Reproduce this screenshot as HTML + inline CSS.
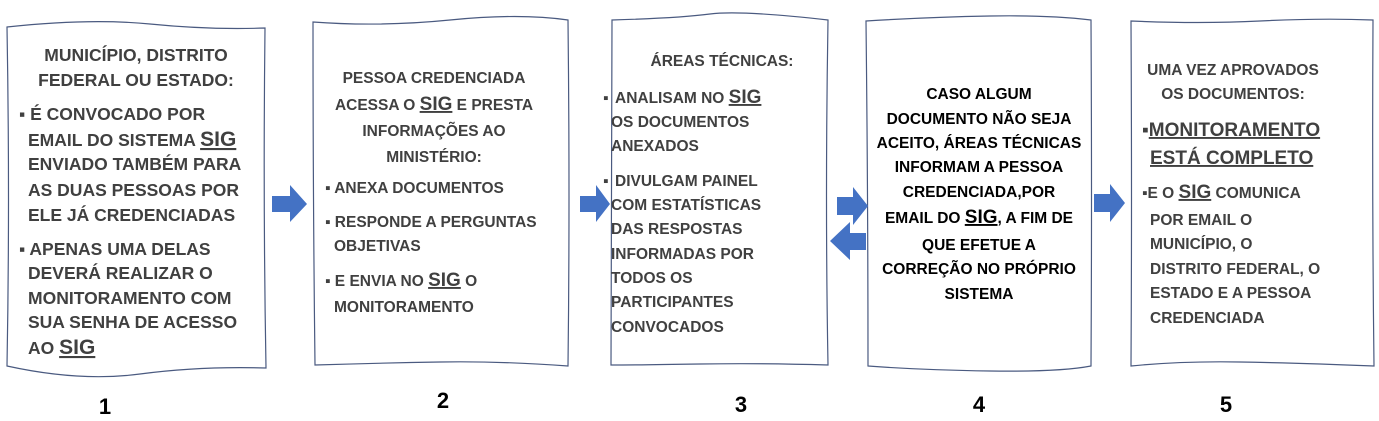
<!DOCTYPE html>
<html><head><meta charset="utf-8"><style>
html,body{margin:0;padding:0;background:#fff;}
svg{display:block;}
text{font-family:"Liberation Sans",sans-serif;font-weight:bold;font-size:15.5px;fill:#404040;}
.b1 text{font-size:17.5px;}
.c{text-anchor:middle;}
.s{font-size:19px;text-decoration:underline;}
.b1 .s{font-size:21px;}
.k{fill:#000;}
.n{font-size:22px;fill:#000;}
</style></head><body>
<svg width="1379" height="421" viewBox="0 0 1379 421">
<g fill="#fff" stroke="#4a5a80" stroke-width="1.2">
<path d="M7,27 Q90,18 150,24 T265,28 Q263,200 266,368 Q200,366 140,374 T7,366 Q10,200 7,27Z"/>
<path d="M313,22 Q380,27 450,20 T568,20 Q570,200 568,366 Q500,361 440,362 T315,365 Q313,200 313,22Z"/>
<path d="M612,20 Q680,18 710,14 T828,20 Q825,200 828,365 Q760,363 700,364 T611,365 Q612,200 612,20Z"/>
<path d="M866,21 Q930,17 990,16 T1091,20 Q1092,200 1091,366 Q1060,372 990,371 T868,366 Q868,200 866,21Z"/>
<path d="M1131,21 Q1200,24 1260,21 T1373,20 Q1372,200 1374,366 Q1300,363 1240,362 T1131,366 Q1132,200 1131,21Z"/>
</g>
<g fill="#4472C4">
<polygon points="272,196 290,196 290,185 307,204 290,222 290,212 272,212"/>
<polygon points="580,196 596,196 596,185 610,204 596,222 596,212 580,212"/>
<polygon points="837,197 853,197 853,187 868,206 853,225 853,215 837,215"/>
<polygon points="866,233 850,233 850,222 830,241 850,260 850,250 866,250"/>
<polygon points="1094,194 1110,194 1110,184 1125,203 1110,222 1110,212 1094,212"/>
</g>
<g class="b1">
<text class="c" x="136" y="61">MUNICÍPIO, DISTRITO</text>
<text class="c" x="136" y="86">FEDERAL OU ESTADO:</text>
<text x="19" y="120">▪ É CONVOCADO POR</text>
<text x="28" y="146">EMAIL DO SISTEMA <tspan class="s">SIG</tspan></text>
<text x="28" y="170">ENVIADO TAMBÉM PARA</text>
<text x="28" y="196">AS DUAS PESSOAS POR</text>
<text x="28" y="221">ELE JÁ CREDENCIADAS</text>
<text x="19" y="255">▪ APENAS UMA DELAS</text>
<text x="28" y="279">DEVERÁ REALIZAR O</text>
<text x="28" y="304">MONITORAMENTO COM</text>
<text x="28" y="328">SUA SENHA DE ACESSO</text>
<text x="28" y="354">AO <tspan class="s">SIG</tspan></text>
</g>
<text class="c" x="434" y="83">PESSOA CREDENCIADA</text>
<text class="c" x="434" y="110">ACESSA O <tspan class="s">SIG</tspan> E PRESTA</text>
<text class="c" x="434" y="136">INFORMAÇÕES AO</text>
<text class="c" x="434" y="162">MINISTÉRIO:</text>
<text x="325" y="193">▪ ANEXA DOCUMENTOS</text>
<text x="325" y="227">▪ RESPONDE A  PERGUNTAS</text>
<text x="334" y="251">OBJETIVAS</text>
<text x="325" y="286">▪ E ENVIA NO <tspan class="s">SIG</tspan> O</text>
<text x="334" y="312">MONITORAMENTO</text>
<text class="c" x="722" y="66">ÁREAS TÉCNICAS:</text>
<text x="603" y="103">▪</text>
<text x="615" y="103">ANALISAM NO <tspan class="s">SIG</tspan></text>
<text x="611" y="127">OS DOCUMENTOS</text>
<text x="611" y="151">ANEXADOS</text>
<text x="603" y="186">▪</text>
<text x="615" y="186">DIVULGAM PAINEL</text>
<text x="611" y="210">COM ESTATÍSTICAS</text>
<text x="611" y="234">DAS RESPOSTAS</text>
<text x="611" y="259">INFORMADAS POR</text>
<text x="611" y="283">TODOS OS</text>
<text x="611" y="307">PARTICIPANTES</text>
<text x="611" y="332">CONVOCADOS</text>
<text class="c k" x="979" y="99">CASO ALGUM</text>
<text class="c k" x="979" y="124">DOCUMENTO NÃO SEJA</text>
<text class="c k" x="979" y="148">ACEITO, ÁREAS TÉCNICAS</text>
<text class="c k" x="979" y="172">INFORMAM A PESSOA</text>
<text class="c k" x="979" y="197">CREDENCIADA,POR</text>
<text class="c k" x="979" y="223">EMAIL DO <tspan class="s k">SIG</tspan>, A FIM DE</text>
<text class="c k" x="979" y="250">QUE EFETUE A</text>
<text class="c k" x="979" y="274">CORREÇÃO NO PRÓPRIO</text>
<text class="c k" x="979" y="299">SISTEMA</text>
<text class="c" x="1233" y="75">UMA VEZ APROVADOS</text>
<text class="c" x="1233" y="99">OS DOCUMENTOS:</text>
<text x="1142" y="136" style="font-size:19px">▪<tspan style="text-decoration:underline">MONITORAMENTO</tspan></text>
<text x="1150" y="164" style="font-size:19px;text-decoration:underline">ESTÁ COMPLETO</text>
<text x="1142" y="198">▪E O <tspan class="s">SIG</tspan> COMUNICA</text>
<text x="1150" y="225">POR EMAIL O</text>
<text x="1150" y="249">MUNICÍPIO, O</text>
<text x="1150" y="274">DISTRITO FEDERAL,  O</text>
<text x="1150" y="298">ESTADO E A PESSOA</text>
<text x="1150" y="323">CREDENCIADA</text>
<text class="c n" x="105" y="414">1</text>
<text class="c n" x="443" y="408">2</text>
<text class="c n" x="741" y="412">3</text>
<text class="c n" x="979" y="412">4</text>
<text class="c n" x="1226" y="412">5</text>
</svg>
</body></html>
